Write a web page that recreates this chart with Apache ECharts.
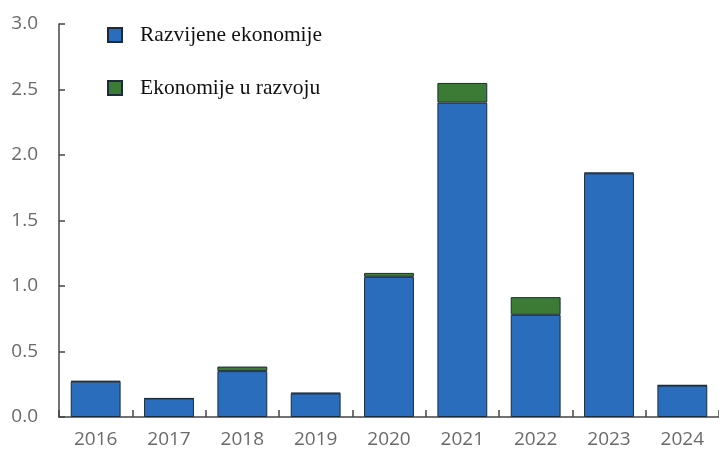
<!DOCTYPE html>
<html>
<head>
<meta charset="utf-8">
<script src="https://cdn.jsdelivr.net/npm/echarts@6/dist/echarts.min.js"></script>
<style>
  html, body { margin: 0; padding: 0; background: #ffffff; }
  #chart { width: 719px; height: 455px; }
</style>
</head>
<body>
<div id="chart"></div>
<script>
// Years on the category axis
const years = ['2016', '2017', '2018', '2019', '2020', '2021', '2022', '2023', '2024'];
// Stacked contributions
const developed = [0.27, 0.14, 0.35, 0.18, 1.07, 2.40, 0.78, 1.86, 0.24];
const developing = [0.005, 0.003, 0.035, 0.004, 0.03, 0.15, 0.135, 0.005, 0.003];
// Value-axis ticks
const yMin = 0, yMax = 3.0, yStep = 0.5;

const seriesNames = ['Razvijene ekonomije', 'Ekonomije u razvoju'];
const blue = '#2b6dbd';
const green = '#3b7b36';
const edge = '#1c2b3a';
const axisGrey = '#444444';
const labelGrey = '#6a6a6a';

const chart = echarts.init(document.getElementById('chart'), null, { renderer: 'canvas' });
chart.setOption({
  animation: false,
  backgroundColor: '#ffffff',
  grid: { left: 59, right: -3, top: 24, bottom: 38, containLabel: false },
  legend: {
    orient: 'vertical',
    left: 102,
    top: 19,
    itemGap: 31,
    itemWidth: 14,
    itemHeight: 14,
    icon: 'rect',
    data: seriesNames,
    textStyle: { fontFamily: 'Liberation Serif', fontSize: 21.5, color: '#111111', padding: [0, 0, 0, 13] }
  },
  xAxis: {
    type: 'category',
    data: years,
    axisLine: { lineStyle: { color: axisGrey, width: 1.5 } },
    // ticks drawn pointing into the plot area
    axisTick: { show: true, inside: false, length: -7, lineStyle: { color: axisGrey, width: 1.5 } },
    axisLabel: { color: labelGrey, fontFamily: 'Open Sans', fontSize: 19, margin: 13 }
  },
  yAxis: {
    type: 'value',
    min: yMin,
    max: yMax,
    interval: yStep,
    splitLine: { show: false },
    axisLine: { show: true, lineStyle: { color: axisGrey, width: 1.5 } },
    axisTick: { show: true, inside: false, length: -6, lineStyle: { color: axisGrey, width: 1.5 } },
    axisLabel: { color: labelGrey, fontFamily: 'Open Sans', fontSize: 19, margin: 21,
      formatter: v => v.toFixed(1) }
  },
  series: [
    {
      name: seriesNames[0],
      type: 'bar',
      stack: 'total',
      data: developed,
      barWidth: '68%',
      itemStyle: { color: blue, borderColor: edge, borderWidth: 1 }
    },
    {
      name: seriesNames[1],
      type: 'bar',
      stack: 'total',
      data: developing,
      barWidth: '68%',
      itemStyle: { color: green, borderColor: edge, borderWidth: 1 }
    }
  ]
});
</script>
</body>
</html>
